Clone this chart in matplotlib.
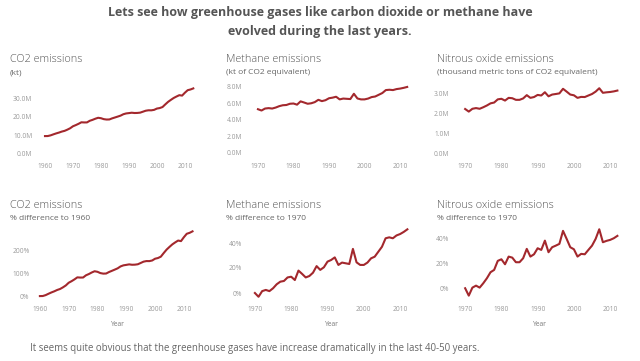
import matplotlib
matplotlib.use("Agg")
import matplotlib.pyplot as plt
from matplotlib.ticker import FuncFormatter, FixedLocator

plt.rcParams['font.family'] = ['Open Sans', 'DejaVu Sans']

# ---------------- data ----------------
co2_years = list(range(1960, 2014))
co2_kt_m = [9.40, 9.43, 9.80, 10.36, 10.89, 11.35, 11.90, 12.30, 12.97, 13.75,
            14.85, 15.49, 16.22, 17.05, 16.97, 16.99, 17.89, 18.41, 19.04, 19.55,
            19.32, 18.80, 18.58, 18.62, 19.23, 19.72, 20.22, 20.74, 21.52, 21.96,
            22.15, 22.36, 22.20, 22.24, 22.40, 22.93, 23.47, 23.71, 23.69, 23.95,
            24.67, 24.95, 25.51, 26.99, 28.39, 29.50, 30.54, 31.35, 32.09, 31.86,
            33.46, 34.86, 35.25, 35.85]

ghg_years = list(range(1970, 2013))
methane_m = [5.30, 5.14, 5.38, 5.43, 5.38, 5.50, 5.67, 5.78, 5.81, 5.96,
             5.99, 5.85, 6.25, 6.11, 5.96, 6.02, 6.16, 6.44, 6.28, 6.39,
             6.63, 6.70, 6.81, 6.49, 6.59, 6.56, 6.53, 7.17, 6.60, 6.49,
             6.49, 6.59, 6.77, 6.84, 7.05, 7.26, 7.62, 7.66, 7.62, 7.74,
             7.80, 7.89, 8.00]
n2o_m = [2.200, 2.070, 2.211, 2.246, 2.211, 2.288, 2.376, 2.482, 2.523, 2.682,
         2.710, 2.622, 2.757, 2.739, 2.658, 2.658, 2.728, 2.893, 2.757, 2.798,
         2.904, 2.875, 3.038, 2.834, 2.922, 2.950, 2.981, 3.210, 3.069, 2.922,
         2.886, 2.757, 2.805, 2.798, 2.875, 2.950, 3.069, 3.238, 3.010, 3.034,
         3.051, 3.080, 3.122]

def pct_diff(vals):
    return [(v / vals[0] - 1) * 100 for v in vals]

co2_pct = pct_diff(co2_kt_m)
methane_pct = pct_diff(methane_m)
n2o_pct = pct_diff(n2o_m)

title_text = ("Lets see how greenhouse gases like carbon dioxide or methane have\n"
              "evolved during the last years.")
caption = "It seems quite obvious that the greenhouse gases have increase dramatically in the last 40-50 years."

panels = [
    ("CO2 emissions", "(kt)", co2_years, co2_kt_m, [0, 10, 20, 30], "{:.1f}M", [1960, 1970, 1980, 1990, 2000, 2010], False),
    ("Methane emissions", "(kt of CO2 equivalent)", ghg_years, methane_m, [0, 2, 4, 6, 8], "{:.1f}M", [1970, 1980, 1990, 2000, 2010], False),
    ("Nitrous oxide emissions", "(thousand metric tons of CO2 equivalent)", ghg_years, n2o_m, [0, 1, 2, 3], "{:.1f}M", [1970, 1980, 1990, 2000, 2010], False),
    ("CO2 emissions", "% difference to 1960", co2_years, co2_pct, [0, 100, 200], "{:.0f}%", [1960, 1970, 1980, 1990, 2000, 2010], True),
    ("Methane emissions", "% difference to 1970", ghg_years, methane_pct, [0, 20, 40], "{:.0f}%", [1970, 1980, 1990, 2000, 2010], True),
    ("Nitrous oxide emissions", "% difference to 1970", ghg_years, n2o_pct, [0, 20, 40], "{:.0f}%", [1970, 1980, 1990, 2000, 2010], True),
]

layout = [
    dict(box=(38, 200, 82, 157), xlim=(1957.5, 2015.4), ylim=(-2.2, 39.4), tx=10, ty=60),
    dict(box=(248, 415, 82, 157), xlim=(1967.2, 2014.2), ylim=(-0.5, 8.6), tx=226, ty=60),
    dict(box=(455, 625, 82, 157), xlim=(1967.2, 2014.1), ylim=(-0.2, 3.55), tx=437, ty=60),
    dict(box=(35, 200, 225, 300), xlim=(1958.3, 2015.6), ylim=(-17, 309), tx=10, ty=205),
    dict(box=(248, 415, 225, 300), xlim=(1968.1, 2014.1), ylim=(-5.6, 54.4), tx=226, ty=205),
    dict(box=(455, 625, 225, 300), xlim=(1967.2, 2014.1), ylim=(-9.4, 50.6), tx=437, ty=205),
]

W, H = 640, 361
fig = plt.figure(figsize=(W / 100, H / 100), dpi=100)
fig.patch.set_facecolor('white')

line_color = '#a3282d'
tick_color = '#9a9a9a'
title_color = '#555555'

fig.text(320 / W, 1 - 22 / H, title_text, ha='center', va='center',
         fontsize=9.0, fontweight='bold', color='#555555', linespacing=1.55)

for (ttl, sub, xs, ys, yt, fmt, xt, show_year), lay in zip(panels, layout):
    l, r, t, b = lay['box']
    ax = fig.add_axes([l / W, 1 - b / H, (r - l) / W, (b - t) / H])
    ax.plot(xs, ys, color=line_color, lw=1.5, solid_joinstyle='round')
    ax.set_xlim(*lay['xlim'])
    ax.set_ylim(*lay['ylim'])
    for s in ax.spines.values():
        s.set_visible(False)
    ax.set_facecolor('none')
    ax.yaxis.set_major_locator(FixedLocator(yt))
    ax.yaxis.set_major_formatter(FuncFormatter(lambda v, p, f=fmt: f.format(v)))
    ax.xaxis.set_major_locator(FixedLocator(xt))
    ax.tick_params(length=0, labelsize=4.8, colors=tick_color, pad=4)
    if show_year:
        ax.set_xlabel("Year", fontsize=4.8, color='#777777', labelpad=6)
    fig.text(lay['tx'] / W, 1 - lay['ty'] / H, ttl, ha='left', va='center',
             fontsize=7.8, color=title_color, fontweight='light')
    fig.text(lay['tx'] / W, 1 - (lay['ty'] + 13) / H, sub, ha='left', va='center',
             fontsize=6.0, color='#666666')

fig.text(30 / W, 1 - 349 / H, caption, ha='left', va='center', fontsize=6.9, color='#666666')

fig.savefig('out.png', dpi=100, facecolor='white')
